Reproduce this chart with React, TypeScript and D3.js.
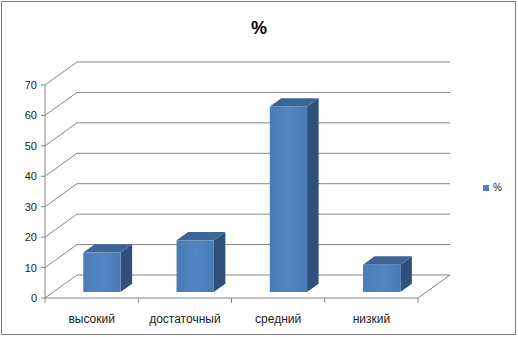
import React, { useEffect } from "react";
import * as d3 from "d3";

const categories = ["высокий", "достаточный", "средний", "низкий"];
const values = [13, 17, 61, 9];
const yTicks = [0, 10, 20, 30, 40, 50, 60, 70];
const seriesName = "%";
const title = "%";

const W = 518;
const H = 337;
// 3D depth offset of the back wall
const DX = 32;
const DY = -23;
// bar depth range (fractions of total depth)
const D0 = 0.26;
const D1 = 0.62;

export default function App() {
  useEffect(() => {
    document.body.style.margin = "0";
  }, []);

  const x = d3.scaleBand<string>().domain(categories).range([45, 418]).padding(0);
  const y = d3.scaleLinear().domain([0, 70]).range([298, 85]);
  const bw = x.bandwidth();
  const barW = bw * 0.4;

  const grid = "#868686";
  const font = "'Liberation Sans', Arial, sans-serif";

  return (
    <svg width={W} height={H} style={{ position: "fixed", left: 0, top: 0, background: "#fff" }}>
      <rect x={1.5} y={1.5} width={W - 4} height={H - 4} fill="#fff" stroke="#7f7f7f" />
      <text x={259} y={34} textAnchor="middle" fontFamily={font} fontWeight="bold" fontSize={18} fill="#000">
        {title}
      </text>
      {yTicks.map((t) => (
        <g key={t}>
          <line x1={45 + DX} x2={418 + DX} y1={y(t) + DY} y2={y(t) + DY} stroke={grid} strokeWidth={1} />
          <line x1={45} x2={45 + DX} y1={y(t)} y2={y(t) + DY} stroke={grid} strokeWidth={1} />
        </g>
      ))}
      <line x1={418} x2={418 + DX} y1={y(0)} y2={y(0) + DY} stroke={grid} />
      <line x1={45} x2={45} y1={y(70)} y2={y(0)} stroke={grid} />
      <line x1={45} x2={418} y1={y(0)} y2={y(0)} stroke={grid} />
      {yTicks.map((t) => (
        <g key={"t" + t}>
          <line x1={41} x2={45} y1={y(t)} y2={y(t)} stroke={grid} />
          <text x={37} y={y(t) + 4} textAnchor="end" fontFamily={font} fontSize={11} fill="#222">
            {t}
          </text>
        </g>
      ))}
      {[...categories.map((c) => x(c) as number), 418].map((v, i) => (
        <line key={"c" + i} x1={v} x2={v} y1={y(0)} y2={y(0) + 5} stroke={grid} />
      ))}
      {categories.map((c) => (
        <text key={"l" + c} x={(x(c) as number) + bw / 2} y={323} textAnchor="middle" fontFamily={font} fontSize={12} fill="#222">
          {c}
        </text>
      ))}
      <defs>
        <linearGradient id="front" x1="0" x2="1" y1="0" y2="0">
          <stop offset="0" stopColor="#4a7bb7" />
          <stop offset="0.5" stopColor="#5186c2" />
          <stop offset="1" stopColor="#4a7bb7" />
        </linearGradient>
      </defs>
      {categories.map((c, i) => {
        const v = values[i];
        const cx = (x(c) as number) + bw / 2 + 2;
        const fx0 = cx - barW / 2 + DX * D0;
        const fx1 = fx0 + barW;
        const fyTop = y(v) + DY * D0;
        const fyBot = y(0) + DY * D0;
        const ddx = DX * (D1 - D0);
        const ddy = DY * (D1 - D0);
        const top = `M${fx0},${fyTop} L${fx0 + ddx},${fyTop + ddy} L${fx1 + ddx},${fyTop + ddy} L${fx1},${fyTop} Z`;
        const side = `M${fx1},${fyTop} L${fx1 + ddx},${fyTop + ddy} L${fx1 + ddx},${fyBot + ddy} L${fx1},${fyBot} Z`;
        return (
          <g key={"b" + c}>
            <path d={side} fill="#30507c" />
            <path d={top} fill="#3c6695" />
            <rect x={fx0} y={fyTop} width={barW} height={fyBot - fyTop} fill="url(#front)" />
          </g>
        );
      })}
      <rect x={483} y={185} width={6} height={6} fill="#4f81bd" />
      <text x={493} y={191} fontFamily={font} fontSize={10} fill="#222">
        {seriesName}
      </text>
    </svg>
  );
}
